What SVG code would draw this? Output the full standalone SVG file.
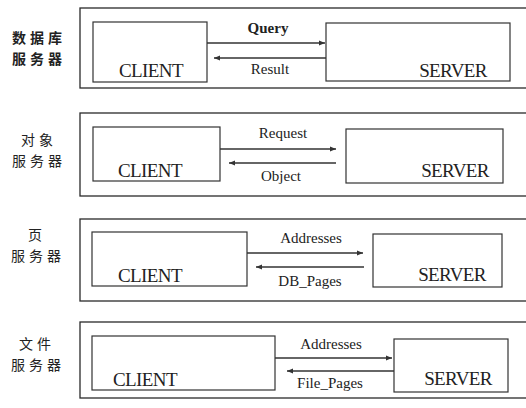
<svg xmlns="http://www.w3.org/2000/svg" width="526" height="408" viewBox="0 0 526 408">
<style>
.outer{fill:none;stroke:#2a2a2a;stroke-width:1.3}
.box{fill:none;stroke:#333;stroke-width:1.2}
.lbl{fill:#222}
.node{font-size:19px;letter-spacing:-0.6px}
.edge{font-size:15px}
.cjk{font-size:14px;fill:#222;text-anchor:middle;letter-spacing:4px}
.arr{stroke:#333;stroke-width:1.3;fill:none}
</style>
<defs>
<marker id="ah" viewBox="0 0 10 10" refX="10" refY="5" markerWidth="8" markerHeight="6" orient="auto" markerUnits="userSpaceOnUse">
<path d="M0,1 L10,5 L0,9 z" fill="#333"/>
</marker>
</defs>
<rect width="526" height="408" fill="#fff"/>

<g id="row1-label">
<text class="cjk" font-family="'Noto Sans CJK SC', sans-serif" font-weight="bold" x="39" y="43">数据库</text>
<text class="cjk" font-family="'Noto Sans CJK SC', sans-serif" font-weight="bold" x="39" y="64">服务器</text>
</g>
<rect id="row1-frame" class="outer" x="80" y="8" width="460" height="80"/>
<g id="row1-client"><rect class="box" x="93" y="22" width="114" height="60"/><text class="lbl node" font-family="'Liberation Serif', 'DejaVu Serif', serif" x="151" y="77" text-anchor="middle">CLIENT</text></g>
<g id="row1-server"><rect class="box" x="326" y="23" width="184" height="58"/><text class="lbl node" font-family="'Liberation Serif', 'DejaVu Serif', serif" x="453" y="77" text-anchor="middle">SERVER</text></g>

<g id="row2-label">
<text class="cjk" font-family="'Noto Sans CJK SC', sans-serif" x="39" y="145">对象</text>
<text class="cjk" font-family="'Noto Sans CJK SC', sans-serif" x="39" y="166">服务器</text>
</g>
<rect id="row2-frame" class="outer" x="80" y="113" width="460" height="83"/>
<g id="row2-client"><rect class="box" x="93" y="127" width="127" height="54"/><text class="lbl node" font-family="'Liberation Serif', 'DejaVu Serif', serif" x="150" y="177" text-anchor="middle">CLIENT</text></g>
<g id="row2-server"><rect class="box" x="346" y="129" width="157" height="54"/><text class="lbl node" font-family="'Liberation Serif', 'DejaVu Serif', serif" x="455" y="177" text-anchor="middle">SERVER</text></g>

<g id="row3-label">
<text class="cjk" font-family="'Noto Sans CJK SC', sans-serif" x="37" y="240">页</text>
<text class="cjk" font-family="'Noto Sans CJK SC', sans-serif" x="38" y="261">服务器</text>
</g>
<rect id="row3-frame" class="outer" x="80" y="219" width="460" height="82"/>
<g id="row3-client"><rect class="box" x="92" y="232" width="155" height="54"/><text class="lbl node" font-family="'Liberation Serif', 'DejaVu Serif', serif" x="150" y="282" text-anchor="middle">CLIENT</text></g>
<g id="row3-server"><rect class="box" x="373" y="234" width="129" height="53"/><text class="lbl node" font-family="'Liberation Serif', 'DejaVu Serif', serif" x="452" y="281" text-anchor="middle">SERVER</text></g>

<g id="row4-label">
<text class="cjk" font-family="'Noto Sans CJK SC', sans-serif" x="37" y="349">文件</text>
<text class="cjk" font-family="'Noto Sans CJK SC', sans-serif" x="38" y="370">服务器</text>
</g>
<rect id="row4-frame" class="outer" x="80" y="322" width="460" height="76"/>
<g id="row4-client"><rect class="box" x="92" y="336" width="183" height="54"/><text class="lbl node" font-family="'Liberation Serif', 'DejaVu Serif', serif" x="145" y="386" text-anchor="middle">CLIENT</text></g>
<g id="row4-server"><rect class="box" x="394" y="339" width="114" height="53"/><text class="lbl node" font-family="'Liberation Serif', 'DejaVu Serif', serif" x="458" y="385" text-anchor="middle">SERVER</text></g>

<g id="connectors">
<line class="arr" x1="207" y1="43" x2="325" y2="43" marker-end="url(#ah)"/>
<line class="arr" x1="326" y1="58" x2="214" y2="58" marker-end="url(#ah)"/>
<line class="arr" x1="220" y1="149" x2="336" y2="149" marker-end="url(#ah)"/>
<line class="arr" x1="336" y1="163" x2="229" y2="163" marker-end="url(#ah)"/>
<line class="arr" x1="247" y1="253" x2="363" y2="253" marker-end="url(#ah)"/>
<line class="arr" x1="364" y1="267" x2="256" y2="267" marker-end="url(#ah)"/>
<line class="arr" x1="275" y1="358" x2="392" y2="358" marker-end="url(#ah)"/>
<line class="arr" x1="394" y1="371" x2="287" y2="371" marker-end="url(#ah)"/>
</g>
<g id="edge-labels" font-family="'Liberation Serif', 'DejaVu Serif', serif">
<text class="lbl edge" x="268" y="33" text-anchor="middle" font-weight="bold">Query</text>
<text class="lbl edge" x="270" y="74" text-anchor="middle">Result</text>
<text class="lbl edge" x="283" y="138" text-anchor="middle">Request</text>
<text class="lbl edge" x="281" y="181" text-anchor="middle">Object</text>
<text class="lbl edge" x="311" y="243" text-anchor="middle">Addresses</text>
<text class="lbl edge" x="310" y="286" text-anchor="middle">DB_Pages</text>
<text class="lbl edge" x="331" y="349" text-anchor="middle">Addresses</text>
<text class="lbl edge" x="330" y="388" text-anchor="middle">File_Pages</text>
</g>
</svg>
